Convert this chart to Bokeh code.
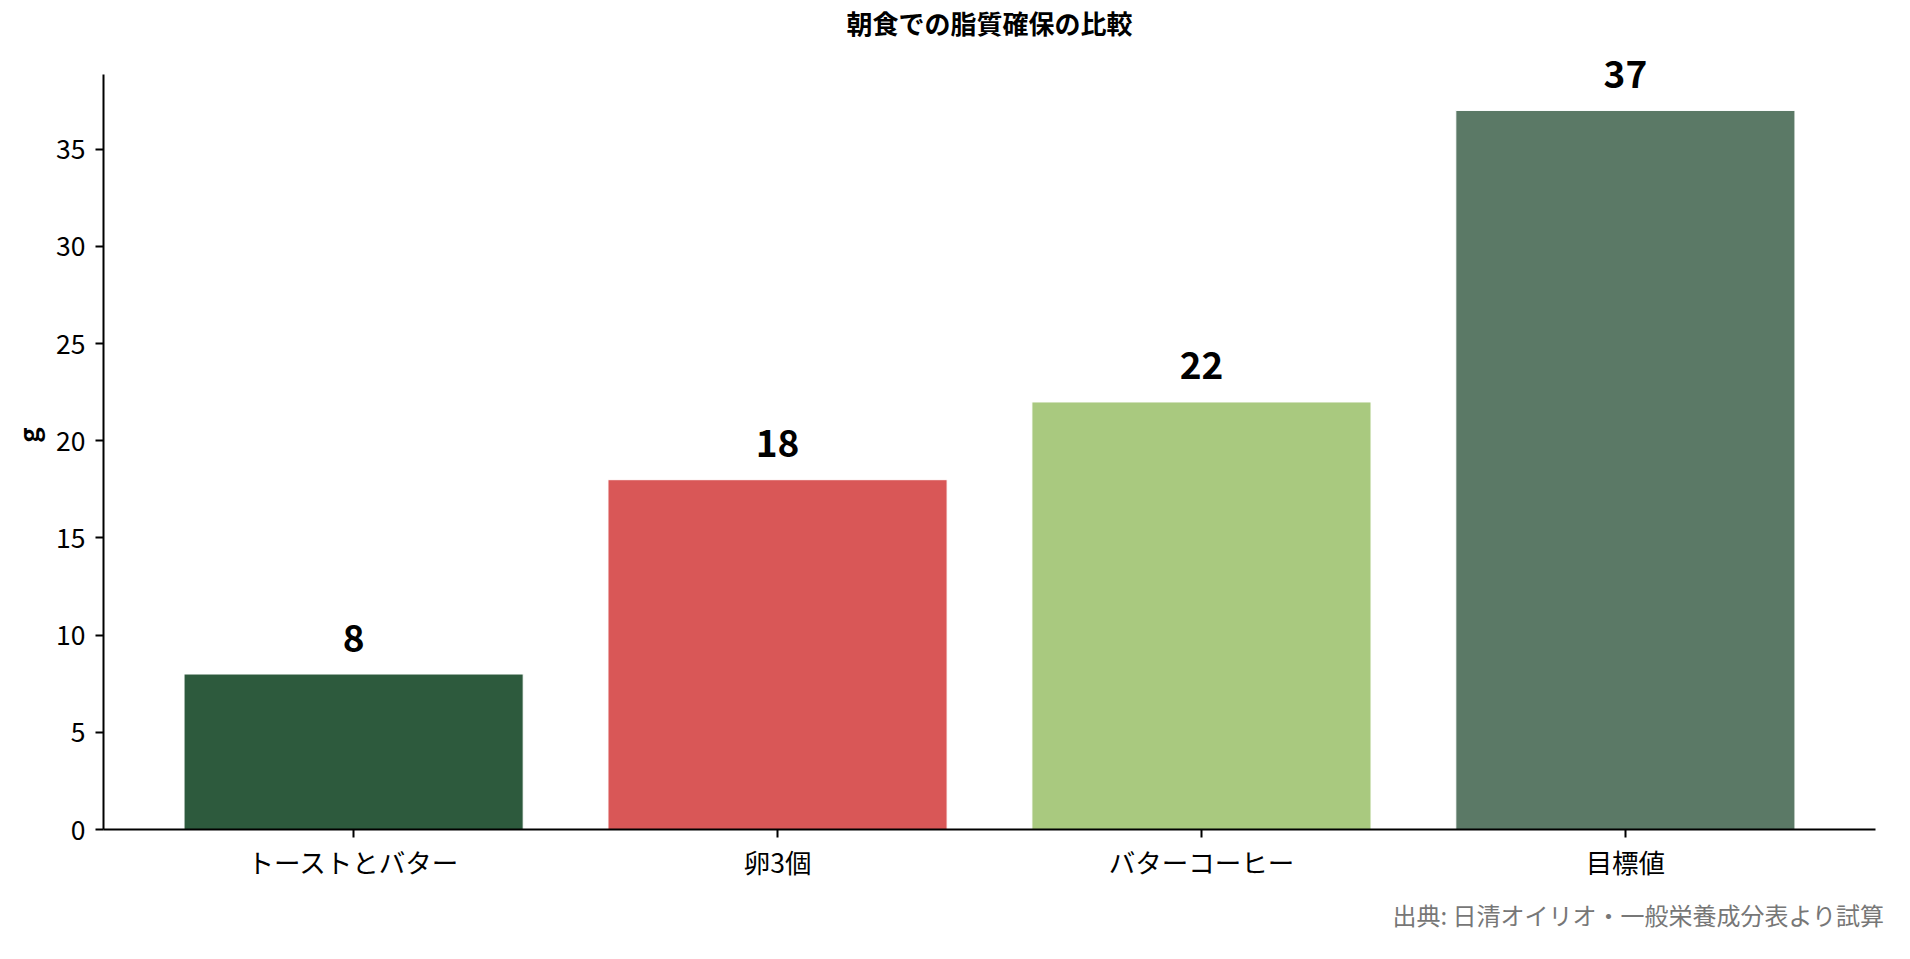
from bokeh.plotting import figure
from bokeh.models import Range1d, FixedTicker, ColumnDataSource, Title
from bokeh.embed import file_html
from bokeh.resources import INLINE
from bokeh.core.properties import value

# ---- data ----
categories = ["トーストとバター", "卵3個", "バターコーヒー", "目標値"]
fat_grams = [8, 18, 22, 37]
bar_colors = ["#2d5a3d", "#d95757", "#a9c97f", "#5b7966"]
y_ticks = [0, 5, 10, 15, 20, 25, 30, 35]
title_text = "朝食での脂質確保の比較"
y_label = "g"
source_note = "出典: 日清オイリオ・一般栄養成分表より試算"

FONT = "Noto Sans CJK JP"

# ---- layout constants (pixels) ----
W, H = 1894, 943
LEFT, RIGHT = 103, 19
AXIS_TOP = 74        # where the y axis line ends
FRAME_TOP = 40       # frame extends above the axis so value labels are not clipped
FRAME_BOTTOM = 829
axis_px = FRAME_BOTTOM - AXIS_TOP
frame_px = FRAME_BOTTOM - FRAME_TOP

y_axis_end = max(fat_grams) * 1.05
y_frame_end = y_axis_end * frame_px / axis_px

x_idx = list(range(len(categories)))
src = ColumnDataSource(dict(
    x=x_idx,
    top=fat_grams,
    color=bar_colors,
    label=[str(v) for v in fat_grams],
))

p = figure(
    width=W, height=H,
    output_backend="svg", toolbar_location=None,
    x_range=Range1d(-0.59, len(categories) - 1 + 0.59),
    y_range=Range1d(0, y_frame_end),
    min_border_left=LEFT, min_border_right=RIGHT,
    min_border_top=FRAME_TOP, min_border_bottom=H - FRAME_BOTTOM,
)

p.vbar(x="x", top="top", width=0.8, fill_color="color",
       line_color="white", line_width=1, source=src)

p.text(x="x", y="top", text="label", source=src,
       text_align="center", text_baseline="alphabetic", y_offset=-36,
       text_font=value(FONT), text_font_style="bold",
       text_font_size="37px", text_color="black")

# title
p.title.text = title_text
p.title.align = "center"
p.title.text_font = FONT
p.title.text_font_size = "26px"
p.title.text_font_style = "bold"
p.title.text_color = "black"
p.title.standoff = 0

# source note
note = Title(text=source_note, align="right", text_font=FONT,
             text_font_size="24px", text_font_style="normal",
             text_color="#777777", offset=-9, standoff=22)
p.add_layout(note, "below")

# axes
p.xaxis.ticker = FixedTicker(ticks=x_idx)
p.xaxis.major_label_overrides = {i: c for i, c in zip(x_idx, categories)}
p.yaxis.ticker = FixedTicker(ticks=y_ticks)
p.yaxis.bounds = (0, y_axis_end)
p.yaxis.axis_label = y_label

for ax in (p.xaxis[0], p.yaxis[0]):
    ax.axis_line_color = "black"
    ax.axis_line_width = 2
    ax.major_tick_line_color = "black"
    ax.major_tick_line_width = 2
    ax.major_tick_out = 8
    ax.major_tick_in = 0
    ax.minor_tick_out = 0
    ax.minor_tick_in = 0
    ax.major_label_text_font = FONT
    ax.major_label_text_font_size = "26.5px"
    ax.major_label_text_color = "black"
    ax.major_label_standoff = 10
    ax.axis_label_text_font = FONT
    ax.axis_label_text_font_size = "26px"
    ax.axis_label_text_font_style = "bold"
    ax.axis_label_text_color = "black"
    ax.axis_label_standoff = 7

p.xaxis.major_label_standoff = 4

p.xgrid.visible = False
p.ygrid.visible = False
p.outline_line_color = None

open("out.html", "w").write(file_html(p, INLINE))
